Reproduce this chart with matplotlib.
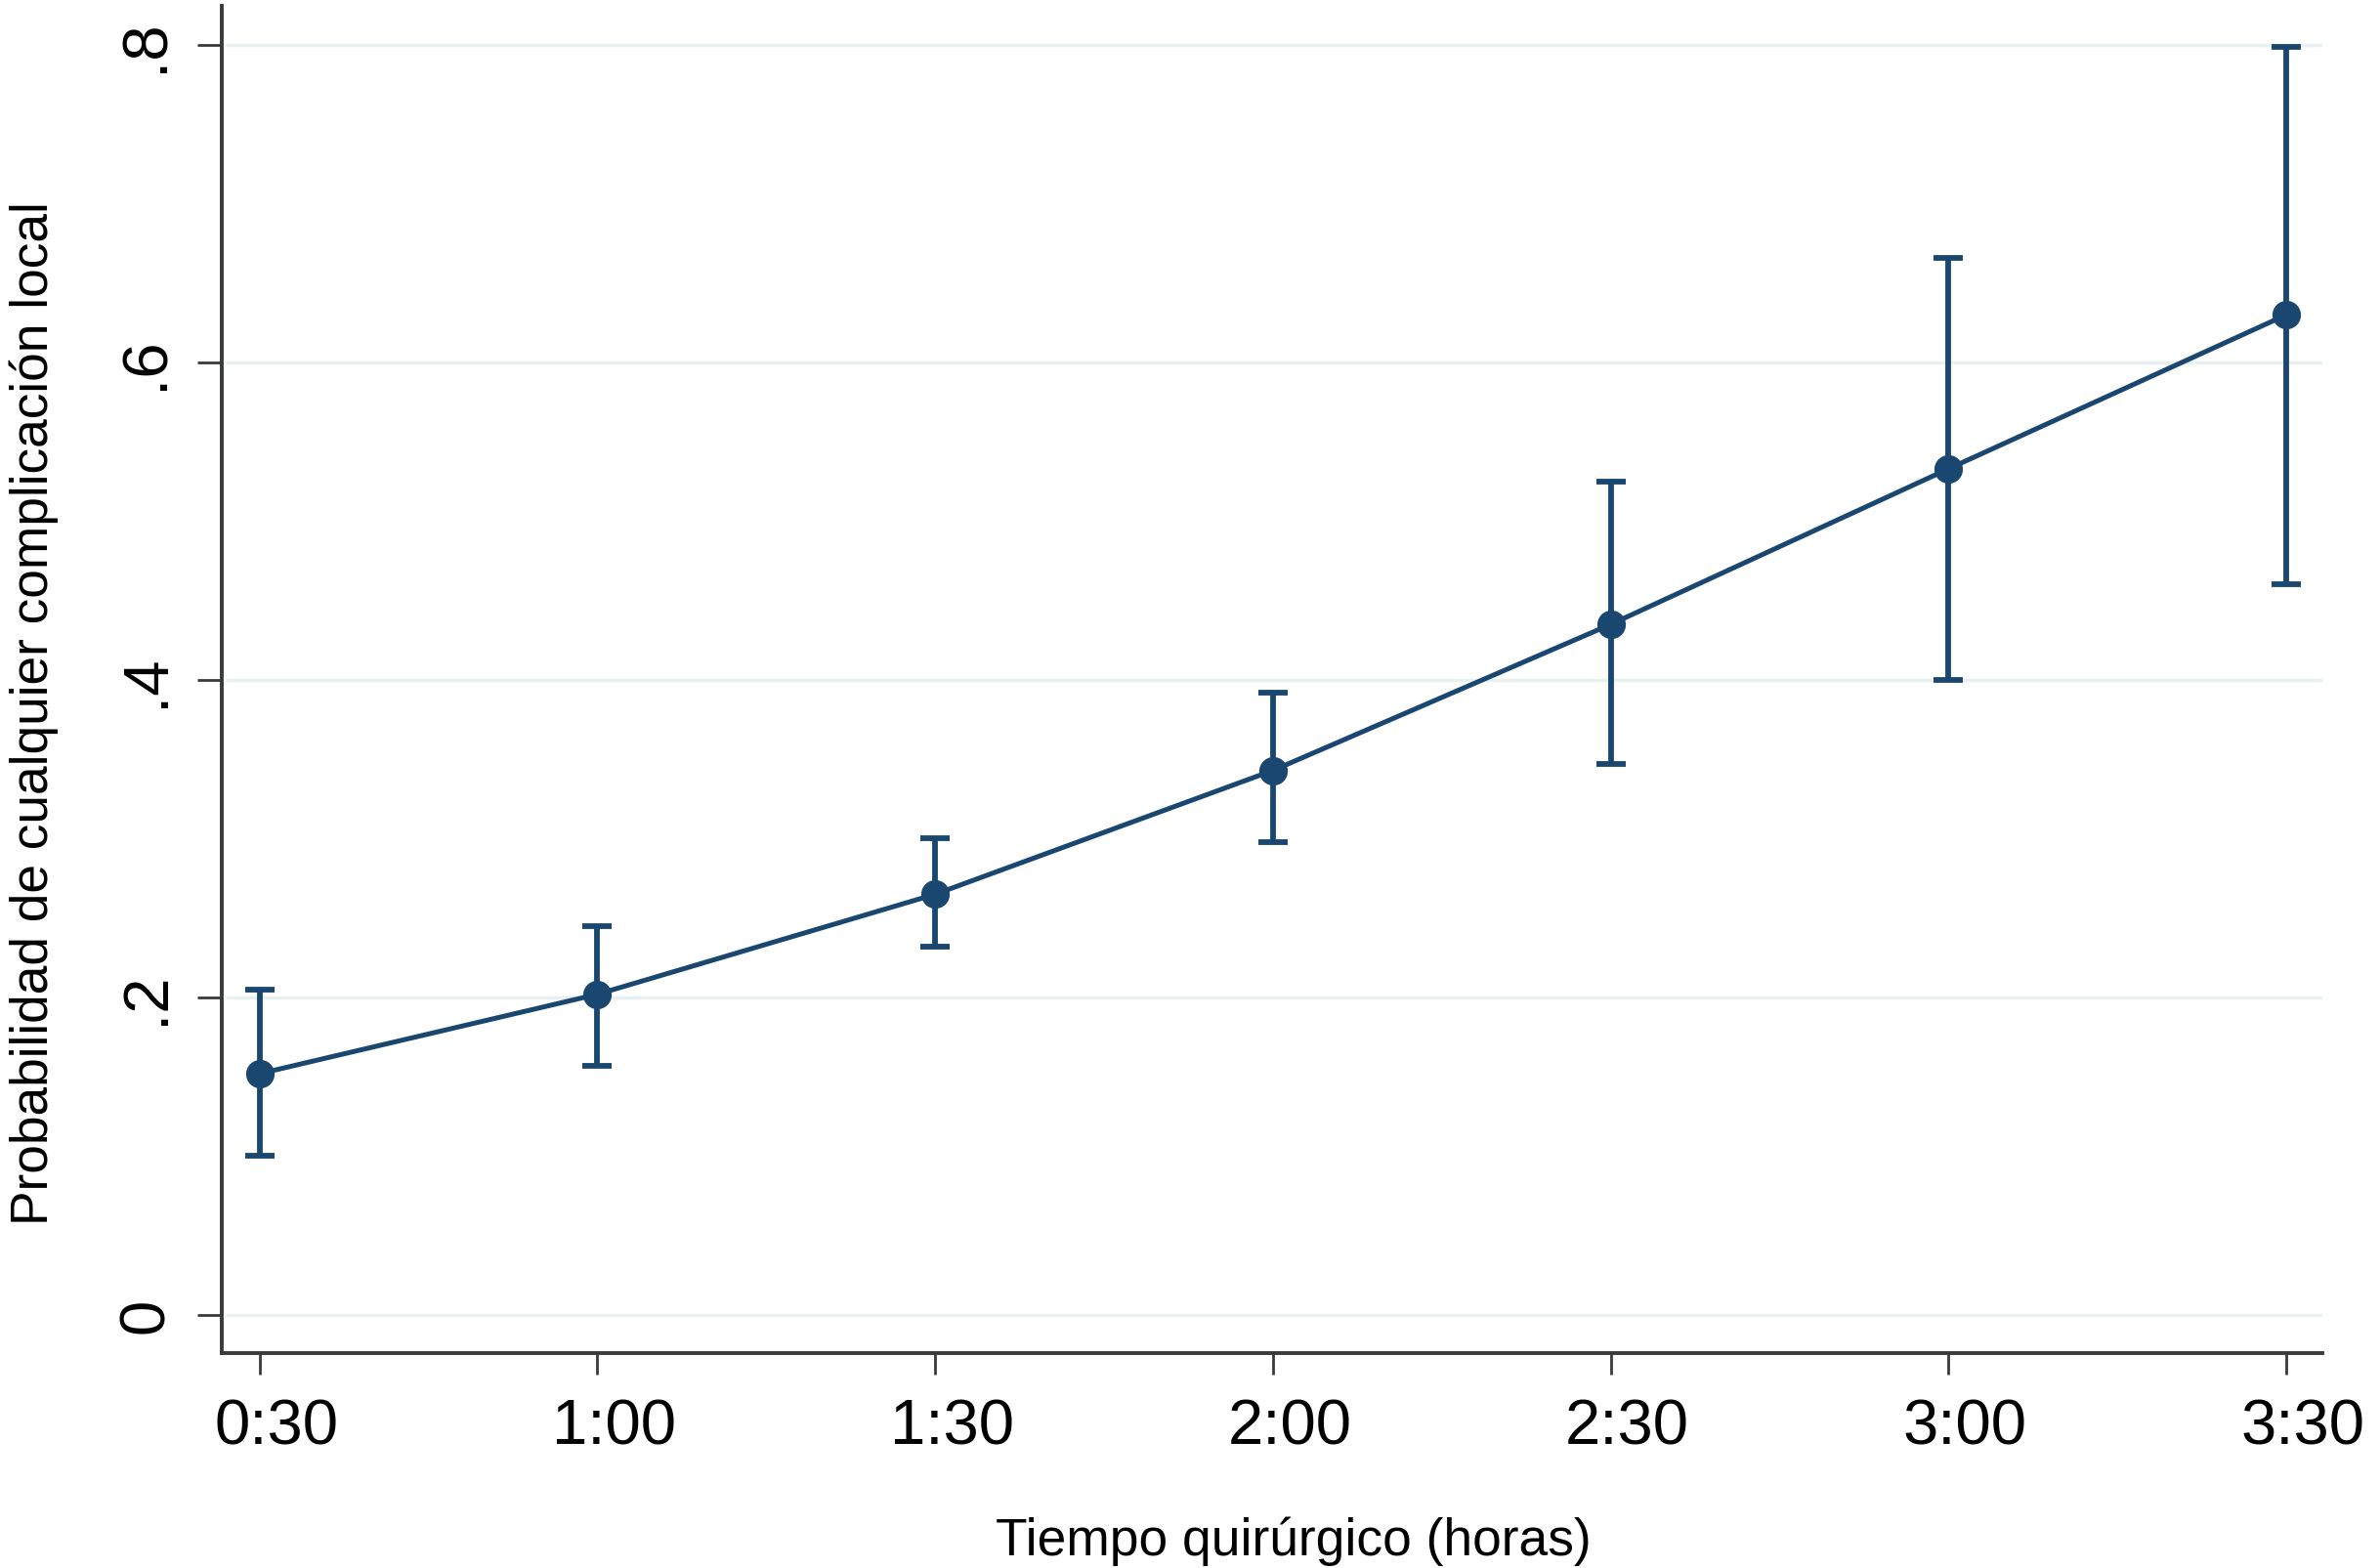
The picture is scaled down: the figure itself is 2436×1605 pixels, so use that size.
import matplotlib
matplotlib.use("Agg")
import matplotlib.pyplot as plt
import matplotlib.transforms as mtransforms
import numpy as np

plt.rcParams['font.family'] = ['Liberation Sans', 'DejaVu Sans']

## Data

minutos = [30, 60, 90, 120, 150, 180, 210]
etiquetas_x = ["0:30", "1:00", "1:30", "2:00", "2:30", "3:00", "3:30"]
prob = np.array([0.152, 0.202, 0.265, 0.343, 0.435, 0.533, 0.630])
ic_inf = np.array([0.100, 0.157, 0.232, 0.298, 0.347, 0.400, 0.460])
ic_sup = np.array([0.205, 0.245, 0.300, 0.392, 0.525, 0.666, 0.799])
ticks_y = [0, 0.2, 0.4, 0.6, 0.8]
etiquetas_y = ["0", ".2", ".4", ".6", ".8"]

## Figure

azul = "#1a476f"
gris = "#3a3a3a"

fig = plt.figure(figsize=(24.36, 16.06), dpi=100)
ax = fig.add_axes([227/2436, 1 - 1386/1606, (2377-227)/2436, (1386-7)/1606])

for v in ticks_y:
    ax.axhline(v, xmin=0.003, xmax=1, color="#e8f0f2", lw=2.5, zorder=0)

ax.errorbar(minutos, prob, yerr=[prob - ic_inf, ic_sup - prob],
            fmt="o-", color=azul, ms=20, lw=3.6, elinewidth=4.2,
            capsize=11, capthick=4.2, zorder=3)

ax.set_xlim(26.64, 213.2)
ax.set_ylim(-0.024, 0.8246)

ax.set_xticks(minutos)
ax.set_xticklabels(etiquetas_x, fontsize=47)
ax.set_yticks(ticks_y)
ax.set_yticklabels(etiquetas_y, fontsize=47, rotation=90, va="center")

ax.tick_params(axis="x", length=16, width=2, color=gris, pad=17)
ax.tick_params(axis="y", length=18, width=2, color=gris, pad=16)

# etiquetas del eje x algo desplazadas a la derecha, como en el original
desplazo = mtransforms.ScaledTranslation(0.17, 0, fig.dpi_scale_trans)
for lab in ax.get_xticklabels():
    lab.set_transform(lab.get_transform() + desplazo)

for s in ["top", "right"]:
    ax.spines[s].set_visible(False)
for s in ["left", "bottom"]:
    ax.spines[s].set_color(gris)
    ax.spines[s].set_linewidth(2.8)

fig.text(1324/2436, 1 - 1592/1606, "Tiempo quirúrgico (horas)", fontsize=38.4,
         ha="center", va="baseline")
fig.text(10/2436, 1 - 730/1606, "Probabilidad de cualquier complicación local",
         fontsize=38.3, rotation=90, ha="left", va="center")

fig.savefig("out.png", dpi=100)
